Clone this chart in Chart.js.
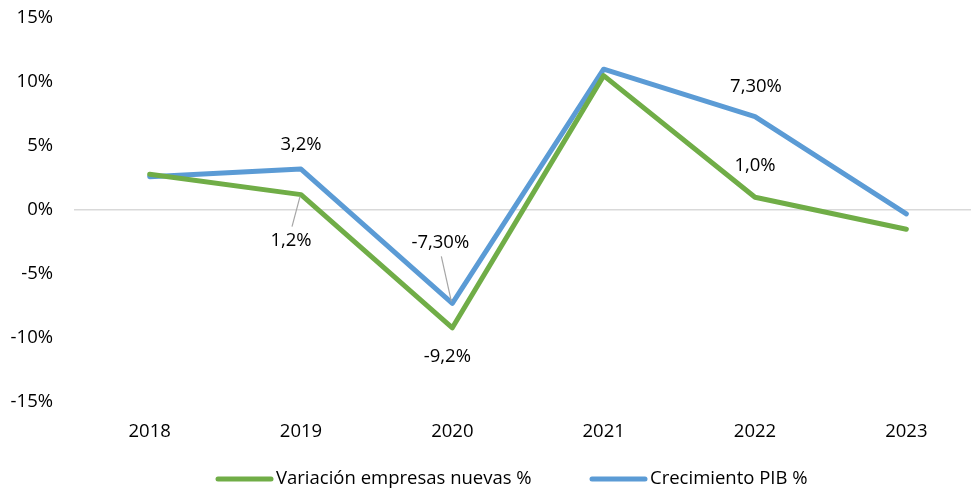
<!DOCTYPE html>
<html>
<head>
<meta charset="utf-8">
<script src="https://cdn.jsdelivr.net/npm/chart.js@4/dist/chart.umd.min.js"></script>
<style>
html,body{margin:0;padding:0;background:#fff;overflow:hidden;width:971px;height:491px;}
#wrap{position:relative;width:982px;height:491px;}
</style>
</head>
<body>
<div id="wrap"><canvas id="c" width="982" height="491"></canvas></div>
<script>
const categories = ['2018','2019','2020','2021','2022','2023'];
const seriesNames = ['Variación empresas nuevas %','Crecimiento PIB %'];
const empresasNuevas = [2.8, 1.2, -9.2, 10.5, 1.0, -1.5];
const crecimientoPIB = [2.6, 3.2, -7.3, 11.0, 7.3, -0.3];
const empresasLabels = [null, '1,2%', '-9,2%', null, '1,0%', null];
const pibLabels = [null, '3,2%', '-7,30%', null, '7,30%', null];
const yTicks = [-15, -10, -5, 0, 5, 10, 15];

const FONT = '"Open Sans", sans-serif';
const FSIZE = 18.5;
const GREEN = '#70AD47', BLUE = '#5B9BD5';

// label placement relative to point (dx, dy, leader line)
const labelPlacement = {
  0: {1: {dx: -10, dy: 46, leader: true}, 2: {dx: -5, dy: 29}, 4: {dx: 0, dy: -31}},
  1: {1: {dx: 0, dy: -24}, 2: {dx: -12, dy: -61, leader: true}, 4: {dx: 1, dy: -30}}
};

const labelPlugin = {
  id: 'pointLabels',
  afterDatasetsDraw(chart) {
    const ctx = chart.ctx;
    ctx.save();
    ctx.font = FSIZE + 'px ' + FONT;
    ctx.textAlign = 'center';
    ctx.textBaseline = 'middle';
    chart.data.datasets.forEach((ds, di) => {
      const meta = chart.getDatasetMeta(di);
      ds.valueLabels.forEach((txt, i) => {
        if (!txt) return;
        const p = meta.data[i];
        const pl = labelPlacement[di][i];
        const lx = p.x + pl.dx, ly = p.y + pl.dy;
        if (pl.leader) {
          ctx.strokeStyle = '#A6A6A6';
          ctx.lineWidth = 1.2;
          ctx.beginPath();
          const sy = pl.dy > 0 ? ly - 14 : ly + 14;
          ctx.moveTo(lx + 1, sy);
          ctx.lineTo(p.x - 1, p.y + (pl.dy > 0 ? 2 : -2));
          ctx.stroke();
        }
        ctx.fillStyle = '#000';
        ctx.fillText(txt, lx, ly);
      });
    });
    ctx.restore();
  }
};

const legendPlugin = {
  id: 'customLegend',
  afterDraw(chart) {
    const ctx = chart.ctx;
    ctx.save();
    ctx.font = FSIZE + 'px ' + FONT;
    ctx.textBaseline = 'middle';
    const y = 479;
    const starts = [218, 592];
    chart.data.datasets.forEach((ds, di) => {
      const x = starts[di];
      ctx.strokeStyle = ds.borderColor;
      ctx.lineWidth = 5;
      ctx.lineCap = 'round';
      ctx.beginPath();
      ctx.moveTo(x, y);
      ctx.lineTo(x + 53, y);
      ctx.stroke();
      ctx.fillStyle = '#000';
      ctx.textAlign = 'left';
      ctx.fillText(ds.label, x + 58, y);
    });
    ctx.restore();
  }
};

new Chart(document.getElementById('c'), {
  type: 'line',
  data: {
    labels: categories,
    datasets: [
      {label: seriesNames[0], data: empresasNuevas, valueLabels: empresasLabels, borderColor: GREEN, backgroundColor: GREEN, borderWidth: 5, pointRadius: 0, tension: 0, borderCapStyle: 'round', borderJoinStyle: 'round'},
      {label: seriesNames[1], data: crecimientoPIB, valueLabels: pibLabels, borderColor: BLUE, backgroundColor: BLUE, borderWidth: 5, pointRadius: 0, tension: 0, borderCapStyle: 'round', borderJoinStyle: 'round'}
    ]
  },
  options: {
    responsive: false,
    animation: false,
    devicePixelRatio: 1,
    layout: {padding: {top: 18, right: 0, bottom: 0, left: 0}},
    plugins: {legend: {display: false}, tooltip: {enabled: false}},
    scales: {
      x: {
        offset: true,
        grid: {display: false, drawTicks: false},
        border: {display: false},
        ticks: {color: '#000', font: {family: FONT, size: FSIZE}, padding: 19, maxRotation: 0},
        afterFit(s) { s.height = 89; s.paddingLeft = 0; s.paddingRight = 0; }
      },
      y: {
        min: -15, max: 15,
        afterBuildTicks(s) { s.ticks = yTicks.map(v => ({value: v})); },
        grid: {drawTicks: false, lineWidth: 1.5, color: c => c.tick && c.tick.value === 0 ? '#D9D9D9' : 'rgba(0,0,0,0)'},
        border: {display: false},
        ticks: {color: '#000', font: {family: FONT, size: FSIZE}, padding: 21, callback: v => v + '%'},
        afterFit(s) { s.width = 74; s.paddingTop = 0; s.paddingBottom = 0; }
      }
    }
  },
  plugins: [labelPlugin, legendPlugin]
});
</script>
</body>
</html>
